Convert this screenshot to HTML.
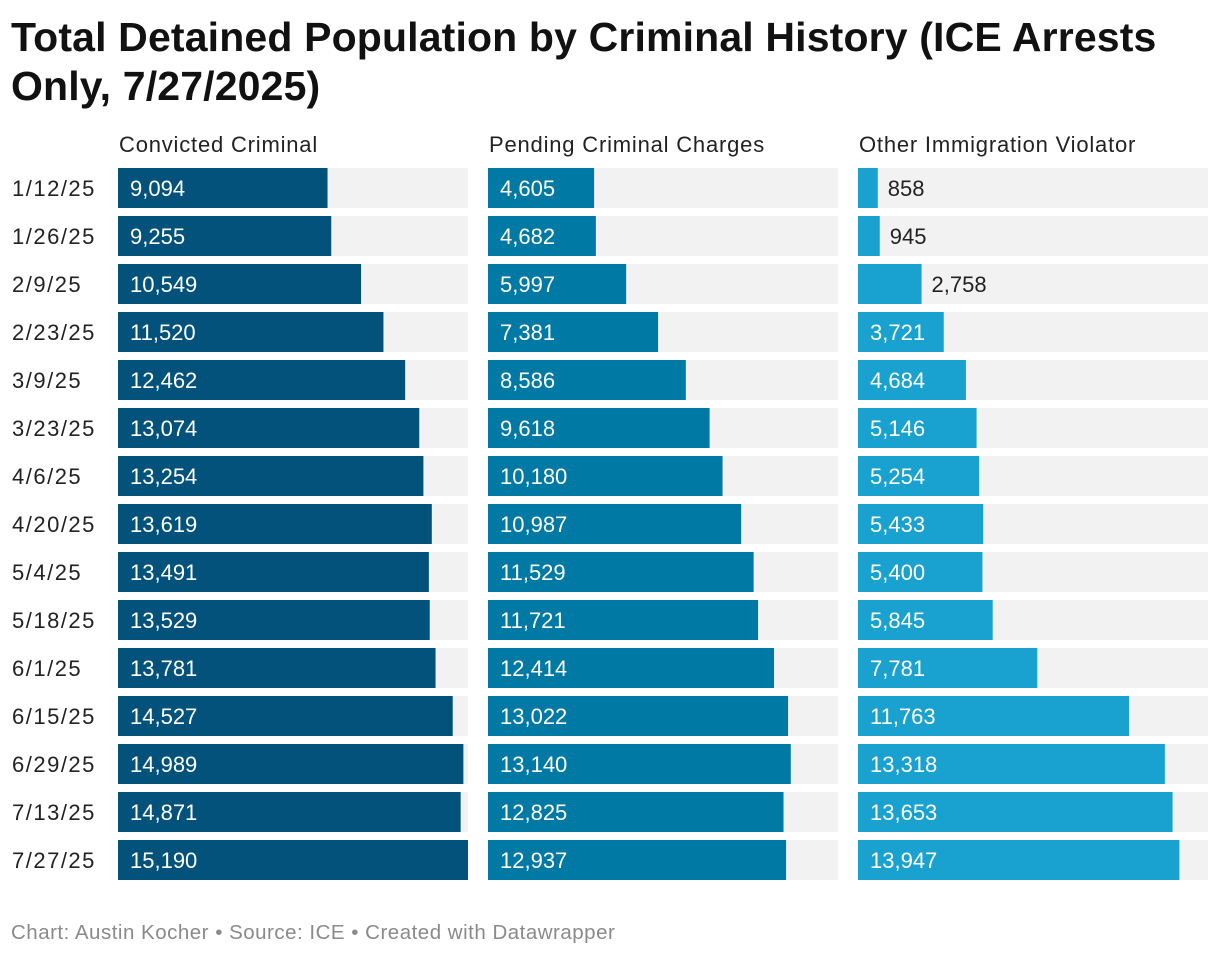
<!DOCTYPE html>
<html><head><meta charset="utf-8">
<style>
body{margin:0;width:1220px;height:956px;background:#fff;font-family:"Liberation Sans",Arial,sans-serif;overflow:hidden}
h1{position:absolute;left:11px;top:13px;margin:0;font-size:41px;line-height:49px;font-weight:bold;color:#111;letter-spacing:0.15px;white-space:nowrap}
.foot{position:absolute;left:11px;top:921px;font-size:20.5px;color:#8a8a8a;letter-spacing:0.5px}
</style></head><body>
<h1>Total Detained Population by Criminal History (ICE Arrests<br>Only, 7/27/2025)</h1>
<svg id="chart" width="1220" height="900" style="position:absolute;left:0;top:0"></svg>
<div class="foot">Chart: Austin Kocher • Source: ICE • Created with Datawrapper</div>
<script>
const dates=["1/12/25","1/26/25","2/9/25","2/23/25","3/9/25","3/23/25","4/6/25","4/20/25","5/4/25","5/18/25","6/1/25","6/15/25","6/29/25","7/13/25","7/27/25"];
const seriesNames=["Convicted Criminal","Pending Criminal Charges","Other Immigration Violator"];
const convicted=[9094,9255,10549,11520,12462,13074,13254,13619,13491,13529,13781,14527,14989,14871,15190];
const pending=[4605,4682,5997,7381,8586,9618,10180,10987,11529,11721,12414,13022,13140,12825,12937];
const other=[858,945,2758,3721,4684,5146,5254,5433,5400,5845,7781,11763,13318,13653,13947];
const series=[convicted,pending,other];
const colors=["#02527b","#0079a5","#19a2cf"];
const svg=document.getElementById('chart');
const NS="http://www.w3.org/2000/svg";
const maxV=Math.max(...convicted,...pending,...other);
const panelX=[118,488,858],panelW=350,top0=168,barH=40,pitch=48;
const xs=v=>v/maxV*panelW;
const ys=i=>top0+i*pitch;
function mk(t,a){const e=document.createElementNS(NS,t);for(const k in a)e.setAttribute(k,a[k]);svg.appendChild(e);return e;}
dates.forEach((d,i)=>{
  const t=mk('text',{x:12,y:ys(i)+28,'font-size':22,fill:'#222','letter-spacing':1.5});
  
  
  t.textContent=d;
});
series.forEach((s,p)=>{
  const h=mk('text',{x:panelX[p]+1,y:152,'font-size':22,fill:'#222','letter-spacing':0.8});
  
  
  h.textContent=seriesNames[p];
  s.forEach((v,i)=>{
    const bg=mk('rect',{x:panelX[p],y:ys(i),width:panelW,height:barH,fill:'#f2f2f2'});
    
    
    const w=xs(v);
    const r=mk('rect',{x:panelX[p],y:ys(i),width:w,height:barH,fill:colors[p]});
    
    
    const inside=w>75;
    const lb=mk('text',{x:inside?panelX[p]+12:panelX[p]+w+10,y:ys(i)+28,'font-size':22,fill:inside?'#fff':'#222'});
    
    
    lb.textContent=v.toLocaleString('en-US');
  });
});
</script>
</body></html>
